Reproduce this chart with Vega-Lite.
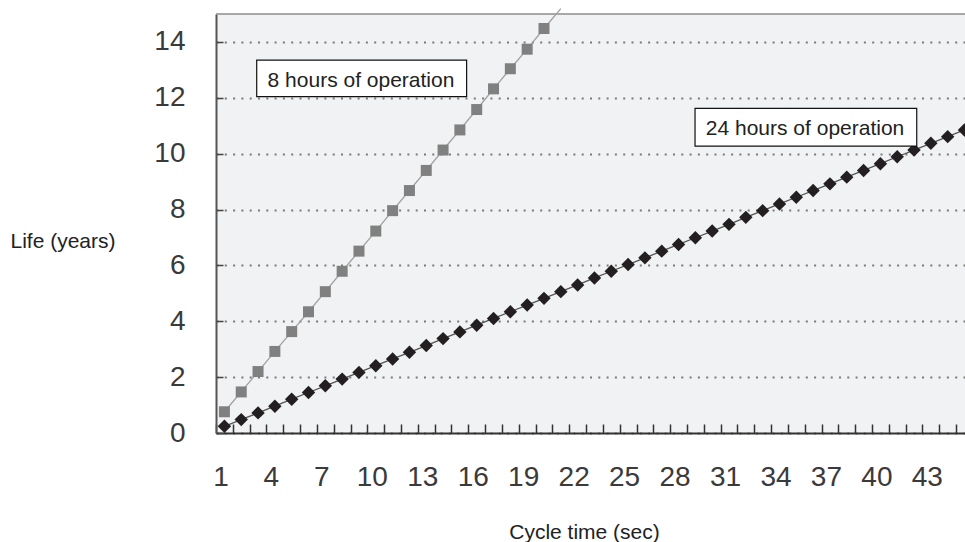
{
  "$schema": "https://vega.github.io/schema/vega-lite/v6.json",
  "width": 749,
  "height": 419,
  "autosize": {"type": "none"},
  "padding": {"left": 216, "top": 14, "right": 0, "bottom": 109},
  "background": "white",
  "config": {
    "view": {"fill": "#f1f2f3", "stroke": null},
    "font": "Liberation Sans"
  },
  "datasets": {
    "h8": [
      {"t": 1, "life": 0.76}, {"t": 2, "life": 1.47}, {"t": 3, "life": 2.2}, {"t": 4, "life": 2.92},
      {"t": 5, "life": 3.63}, {"t": 6, "life": 4.34}, {"t": 7, "life": 5.06}, {"t": 8, "life": 5.79},
      {"t": 9, "life": 6.51}, {"t": 10, "life": 7.23}, {"t": 11, "life": 7.96}, {"t": 12, "life": 8.68},
      {"t": 13, "life": 9.4}, {"t": 14, "life": 10.13}, {"t": 15, "life": 10.85}, {"t": 16, "life": 11.58},
      {"t": 17, "life": 12.32}, {"t": 18, "life": 13.04}, {"t": 19, "life": 13.74}, {"t": 20, "life": 14.48},
      {"t": 21, "life": 15.19}
    ],
    "h24": [
      {"t": 1, "life": 0.24}, {"t": 2, "life": 0.48}, {"t": 3, "life": 0.72}, {"t": 4, "life": 0.96},
      {"t": 5, "life": 1.21}, {"t": 6, "life": 1.45}, {"t": 7, "life": 1.69}, {"t": 8, "life": 1.93},
      {"t": 9, "life": 2.17}, {"t": 10, "life": 2.41}, {"t": 11, "life": 2.65}, {"t": 12, "life": 2.89},
      {"t": 13, "life": 3.13}, {"t": 14, "life": 3.38}, {"t": 15, "life": 3.62}, {"t": 16, "life": 3.86},
      {"t": 17, "life": 4.1}, {"t": 18, "life": 4.34}, {"t": 19, "life": 4.58}, {"t": 20, "life": 4.82},
      {"t": 21, "life": 5.06}, {"t": 22, "life": 5.3}, {"t": 23, "life": 5.55}, {"t": 24, "life": 5.79},
      {"t": 25, "life": 6.03}, {"t": 26, "life": 6.27}, {"t": 27, "life": 6.51}, {"t": 28, "life": 6.75},
      {"t": 29, "life": 6.99}, {"t": 30, "life": 7.23}, {"t": 31, "life": 7.47}, {"t": 32, "life": 7.72},
      {"t": 33, "life": 7.96}, {"t": 34, "life": 8.2}, {"t": 35, "life": 8.44}, {"t": 36, "life": 8.68},
      {"t": 37, "life": 8.92}, {"t": 38, "life": 9.16}, {"t": 39, "life": 9.4}, {"t": 40, "life": 9.64},
      {"t": 41, "life": 9.89}, {"t": 42, "life": 10.13}, {"t": 43, "life": 10.37}, {"t": 44, "life": 10.61},
      {"t": 45, "life": 10.85}
    ],
    "boxes": [
      {"label": "8 hours of operation", "t": 2.92, "t2": 15.4, "life": 12.04, "life2": 13.35},
      {"label": "24 hours of operation", "t": 28.98, "t2": 42.16, "life": 10.27, "life2": 11.62}
    ],
    "labels": [
      {"label": "8 hours of operation", "t": 9.12, "life": 12.4},
      {"label": "24 hours of operation", "t": 35.52, "life": 10.67}
    ],
    "frame": [
      {"t": 0.5, "t2": 45.03, "life": 15}
    ]
  },
  "encoding": {
    "x": {
      "field": "t", "type": "quantitative",
      "scale": {"domain": [0.5, 45.03], "nice": false, "zero": false},
      "axis": {
        "title": "Cycle time (sec)",
        "values": [0.5,1,1.5,2,2.5,3,3.5,4,4.5,5,5.5,6,6.5,7,7.5,8,8.5,9,9.5,10,10.5,11,11.5,12,12.5,13,13.5,14,14.5,15,15.5,16,16.5,17,17.5,18,18.5,19,19.5,20,20.5,21,21.5,22,22.5,23,23.5,24,24.5,25,25.5,26,26.5,27,27.5,28,28.5,29,29.5,30,30.5,31,31.5,32,32.5,33,33.5,34,34.5,35,35.5,36,36.5,37,37.5,38,38.5,39,39.5,40,40.5,41,41.5,42,42.5,43,43.5,44,44.5],
        "labelExpr": "datum.value % 3 === 1 ? '' + datum.value : ''",
        "labelOverlap": false,
        "labelFlush": false,
        "labelBound": false,
        "labelFont": "Liberation Sans",
        "labelFontSize": 28,
        "labelColor": "#3a3a3a",
        "labelPadding": 39,
        "labelOffset": -4,
        "tickSize": -9,
        "tickColor": "#333333",
        "tickWidth": 1.5,
        "tickOpacity": {"condition": {"test": "datum.value % 1 === 0", "value": 0}, "value": 1},
        "domainColor": "#333333",
        "domainWidth": 2,
        "grid": false,
        "titleFont": "Liberation Sans",
        "titleFontSize": 21,
        "titleFontWeight": "normal",
        "titleColor": "#222222",
        "titleX": 368,
        "titleY": 105,
        "titleAlign": "center",
        "titleBaseline": "alphabetic"
      }
    },
    "y": {
      "field": "life", "type": "quantitative",
      "scale": {"domain": [0, 15], "nice": false},
      "axis": {
        "values": [0, 2, 4, 6, 8, 10, 12, 14],
        "title": "Life (years)",
        "titleAngle": 0,
        "titleX": -153.5,
        "titleY": 233,
        "titleAlign": "center",
        "titleBaseline": "alphabetic",
        "titleFont": "Liberation Sans",
        "titleFontSize": 21,
        "titleFontWeight": "normal",
        "titleColor": "#222222",
        "labelFont": "Liberation Sans",
        "labelFontSize": 28,
        "labelColor": "#3a3a3a",
        "labelPadding": 38,
        "tickSize": -7,
        "tickColor": "#444444",
        "tickWidth": 1.5,
        "domainColor": "#555555",
        "domainWidth": 2,
        "grid": true,
        "gridDash": [2, 6.3],
        "gridColor": "#7a7a7a",
        "gridWidth": 2
      }
    }
  },
  "layer": [
    {
      "data": {"name": "frame"},
      "mark": {"type": "rule", "color": "#8c8c8c", "strokeWidth": 1.5},
      "encoding": {"x2": {"field": "t2"}}
    },
    {
      "data": {"name": "h8"},
      "mark": {"type": "line", "color": "#a0a0a0", "strokeWidth": 1.3, "clip": false},
      "encoding": {}
    },
    {
      "data": {"name": "h24"},
      "mark": {"type": "line", "color": "#555555", "strokeWidth": 1.3},
      "encoding": {}
    },
    {
      "data": {"name": "h8"},
      "transform": [{"filter": "datum.life <= 15"}],
      "mark": {"type": "point", "shape": "square", "filled": true, "size": 121, "color": "#808080", "opacity": 1}
    },
    {
      "data": {"name": "h24"},
      "mark": {"type": "point", "shape": "diamond", "filled": true, "size": 180, "color": "#231f20", "opacity": 1, "clip": true}
    },
    {
      "data": {"name": "boxes"},
      "mark": {"type": "rect", "fill": "white", "stroke": "#111111", "strokeWidth": 1.2},
      "encoding": {
        "x2": {"field": "t2"},
        "y2": {"field": "life2"}
      }
    },
    {
      "data": {"name": "labels"},
      "mark": {"type": "text", "font": "Liberation Sans", "fontSize": 21, "color": "#222222", "align": "center", "baseline": "alphabetic"},
      "encoding": {
        "text": {"field": "label"}
      }
    }
  ]
}
